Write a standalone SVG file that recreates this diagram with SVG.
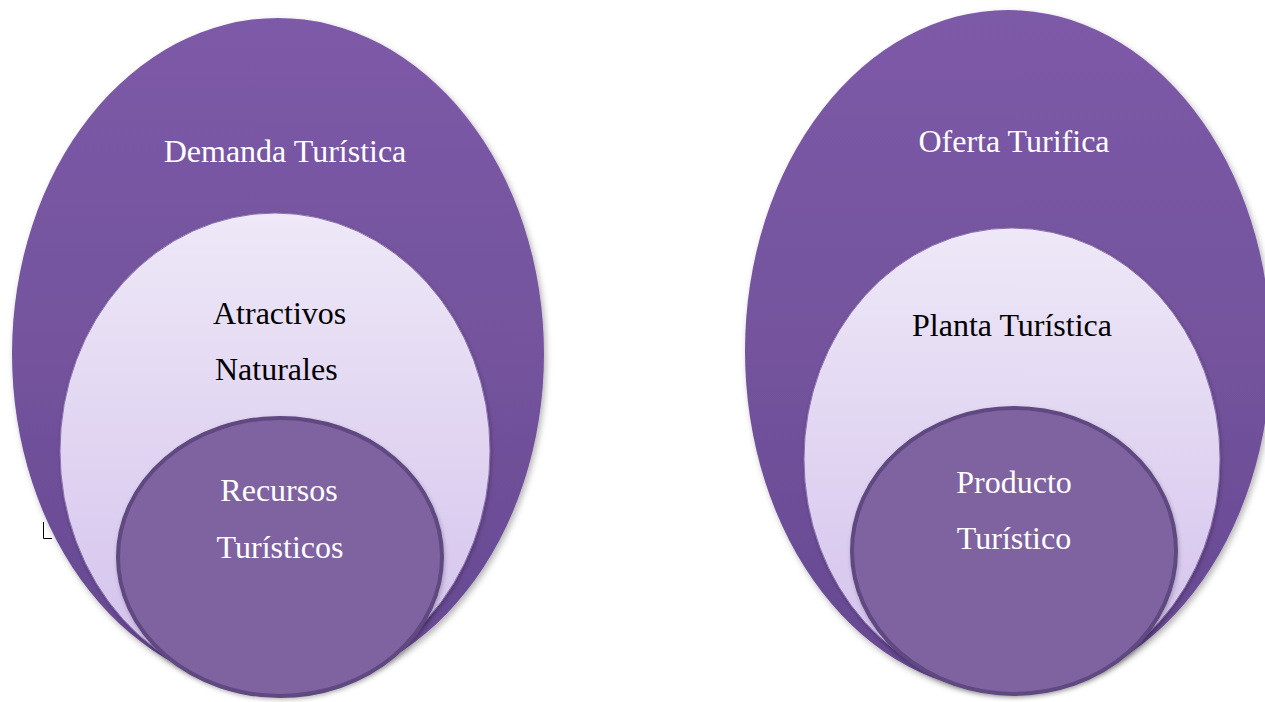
<svg xmlns="http://www.w3.org/2000/svg" width="1265" height="702" viewBox="0 0 1265 702">
<defs>
<linearGradient id="gOuter" x1="0" y1="0" x2="0" y2="1">
<stop offset="0" stop-color="#7c5aa7"/>
<stop offset="0.5" stop-color="#74539d"/>
<stop offset="1" stop-color="#654891"/>
</linearGradient>
<linearGradient id="gLight" x1="0" y1="0" x2="0" y2="1">
<stop offset="0" stop-color="#eee8f7"/>
<stop offset="1" stop-color="#d2c0ec"/>
</linearGradient>
<filter id="sh" x="-10%" y="-10%" width="120%" height="120%">
<feDropShadow dx="2" dy="3" stdDeviation="3" flood-color="#000" flood-opacity="0.3"/>
</filter>
<filter id="sh2" x="-10%" y="-10%" width="120%" height="120%">
<feDropShadow dx="1" dy="2" stdDeviation="2" flood-color="#000" flood-opacity="0.25"/>
</filter>
</defs>
<style>
.outer{fill:url(#gOuter);filter:url(#sh);}
.light{fill:url(#gLight);stroke:#8a70ad;stroke-width:1;filter:url(#sh2);}
.inner{fill:#7f63a1;stroke:#5e4880;stroke-width:4;filter:url(#sh2);}
.tw{font-family:"Liberation Serif","Times New Roman",serif;font-size:32px;fill:#ffffff;text-anchor:middle;}
.tb{font-family:"Liberation Serif","Times New Roman",serif;font-size:32px;fill:#000000;}
</style>
<rect width="1265" height="702" fill="#ffffff"/>
<g id="left-outer">
<ellipse class="outer" cx="278" cy="354" rx="266" ry="336"/>
<text class="tw" x="285" y="162">Demanda Turística</text>
</g>
<g id="left-middle">
<ellipse class="light" cx="275" cy="451" rx="215" ry="238"/>
<text class="tb" x="213" y="324">Atractivos</text>
<text class="tb" x="215" y="380">Naturales</text>
</g>
<g id="left-inner">
<ellipse class="inner" cx="280" cy="557" rx="162" ry="139"/>
<text class="tw" x="279" y="501">Recursos</text>
<text class="tw" x="280" y="558">Turísticos</text>
</g>
<g id="right-outer">
<ellipse class="outer" cx="1008" cy="351" rx="263" ry="341"/>
<text class="tw" x="1014" y="152">Oferta Turifica</text>
</g>
<g id="right-middle">
<ellipse class="light" cx="1012" cy="459" rx="208" ry="231"/>
<text class="tw" x="1012" y="336" style="fill:#000000">Planta Turística</text>
</g>
<g id="right-inner">
<ellipse class="inner" cx="1014" cy="551" rx="162" ry="143"/>
<text class="tw" x="1014" y="493">Producto</text>
<text class="tw" x="1014" y="549">Turístico</text>
</g>
<g id="connectors"></g>
<path d="M43.5 522 V538.5 H52" fill="none" stroke="#000" stroke-width="1"/>
</svg>
